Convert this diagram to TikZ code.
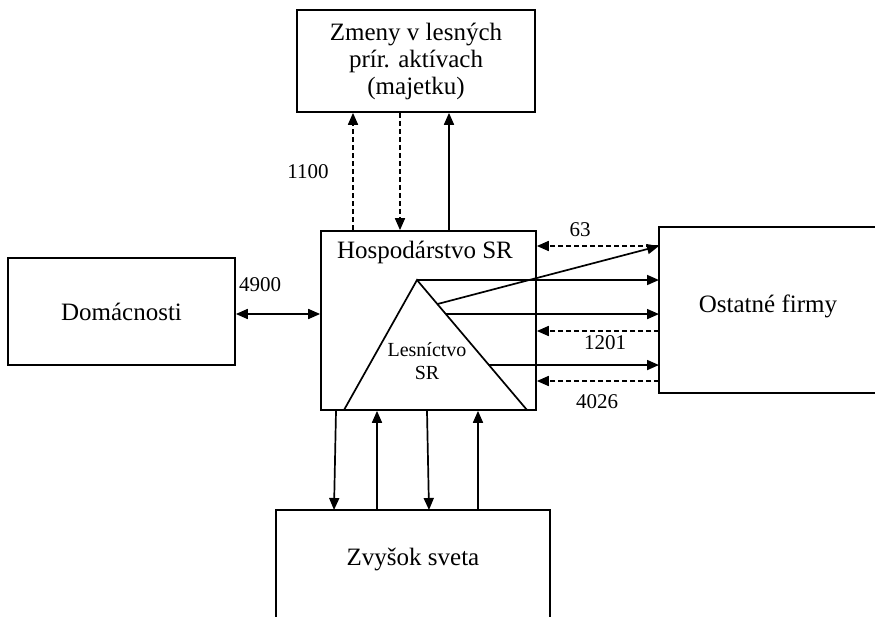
\documentclass[tikz,border=0pt]{standalone}
\usepackage{fontspec}
\setmainfont{Liberation Serif}
\usetikzlibrary{arrows.meta,calc}
\begin{document}
\begin{tikzpicture}[x=0.5pt, y=-0.5pt,
	box/.style={draw, line width=0.85pt, inner sep=0pt, align=center, font=\fontsize{12.5}{13.5}\selectfont},
	num/.style={inner sep=0pt, font=\fontsize{10.5}{12}\selectfont},
	flow/.style={line width=0.85pt, -{Triangle[length=6pt,width=5pt]}},
	dflow/.style={flow, dash pattern=on 2.5pt off 1.5pt}]
	\useasboundingbox (0,0) rectangle (875,617);
	\clip (0,0) rectangle (875,617);

	\node[box, minimum width=119pt, minimum height=51pt] (zmeny) at (416,61) {Zmeny v lesných\\prír. aktívach\\(majetku)};
	\node[box, minimum width=107.5pt, minimum height=89.5pt] (hosp) at (428.5,320.5) {};
	\node[box, draw=none] (hosplabel) at (425,252) {Hospodárstvo SR};
	\node[box, minimum width=113.5pt, minimum height=53.5pt] (domac) at (121.5,311.5) {Domácnosti};
	\node[box, draw=none, minimum width=130pt, minimum height=82pt, anchor=west] (ostatne) at (659,310) {};
	\draw[line width=0.85pt] (ostatne.north east) -- (ostatne.north west) -- (ostatne.south west) -- (ostatne.south east);
	\node[box, draw=none] (ostatnelabel) at (768,306) {Ostatné firmy};
	\node[box, draw=none, minimum width=136pt, minimum height=60pt, anchor=north] (zvysok) at (413,510) {};
	\draw[line width=0.85pt] (zvysok.south west) -- (zvysok.north west) -- (zvysok.north east) -- (zvysok.south east);
	\node[box, draw=none] (zvysoklabel) at (413,559) {Zvyšok sveta};

	\coordinate (apex) at (417,280);
	\coordinate (baseL) at (344,410);
	\coordinate (baseR) at (527,410);
	\draw[line width=0.85pt] (baseL) -- (apex) -- (baseR);
	\node[align=center, inner sep=0pt, font=\fontsize{10}{11.5}\selectfont] (lesnictvo) at (427,361) {Lesníctvo\\SR};
	\coordinate (t1) at ($(apex)!0.185!(baseR)$);
	\coordinate (t2) at ($(apex)!0.262!(baseR)$);
	\coordinate (t3) at ($(apex)!0.654!(baseR)$);

	\draw[dflow] (hosp.north -| 353,0) -- (zmeny.south -| 353,0);
	\draw[dflow] (zmeny.south -| 400,0) -- (hosp.north -| 400,0);
	\draw[flow] (hosp.north -| 449,0) -- (zmeny.south -| 449,0);
	\node[num] (n1100) at (308,172) {1100};

	\draw[line width=0.85pt, {Triangle[length=6pt,width=5pt]}-{Triangle[length=6pt,width=5pt]}] (domac.east |- 0,314) -- (hosp.west |- 0,314);
	\node[num] (n4900) at (260,285) {4900};

	\draw[dflow] (ostatne.west |- 0,246) -- (hosp.east |- 0,246);
	\node[num] (n63) at (580,230) {63};
	\draw[flow] (t1) -- (ostatne.west |- 0,246);
	\draw[flow] (apex) -- (ostatne.west |- apex);
	\draw[flow] (t2) -- (ostatne.west |- t2);
	\draw[dflow] (ostatne.west |- 0,331) -- (hosp.east |- 0,331);
	\node[num] (n1201) at (605,343) {1201};
	\draw[flow] (t3) -- (ostatne.west |- t3);
	\draw[dflow] (ostatne.west |- 0,381) -- (hosp.east |- 0,381);
	\node[num] (n4026) at (597,402) {4026};

	\draw[flow] (hosp.south -| 336,0) -- (zvysok.north -| 334,0);
	\draw[flow] (zvysok.north -| 377,0) -- (hosp.south -| 377,0);
	\draw[flow] (hosp.south -| 427,0) -- (zvysok.north -| 429,0);
	\draw[flow] (zvysok.north -| 478,0) -- (hosp.south -| 478,0);
\end{tikzpicture}
\end{document}
